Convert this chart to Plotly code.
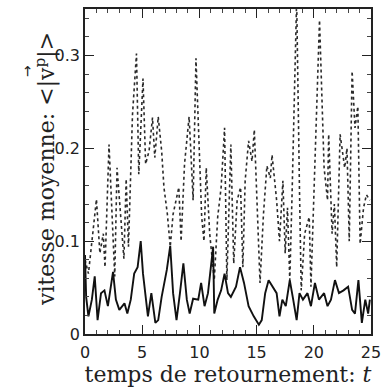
import plotly.graph_objects as go

# upper (dotted) series: mean particle velocity
t_dot = [0.0, 0.3, 1.0, 1.3, 1.6, 1.75, 2.1, 2.6, 2.8, 3.0, 3.4, 3.6, 3.8, 4.15, 4.5, 4.7,
         5.07, 5.3, 5.6, 5.9, 6.1, 6.4, 6.7, 6.9, 7.2, 7.45, 7.7, 8.2, 8.4, 8.7, 9.1, 9.25,
         9.45, 9.7, 10.0, 10.2, 10.4, 10.6, 10.9, 11.2, 11.3, 11.6, 11.9, 12.2, 12.4, 12.75,
         13.0, 13.3, 13.6, 13.8, 14.0, 14.3, 14.6, 14.8, 15.3, 15.6, 15.9, 16.2, 16.35, 16.75,
         17.0, 17.3, 17.5, 17.7, 17.9, 18.1, 18.5, 18.75, 18.9, 19.2, 19.6, 19.75, 20.0, 20.5,
         20.9, 21.2, 21.3, 21.6, 21.8, 22.0, 22.3, 22.7, 22.9, 23.1, 23.35, 23.6, 23.85, 24.05,
         24.35, 24.6, 24.9]
v_dot = [0.080, 0.065, 0.145, 0.087, 0.108, 0.072, 0.204, 0.062, 0.179, 0.144, 0.081, 0.167,
         0.094, 0.236, 0.302, 0.172, 0.275, 0.183, 0.197, 0.233, 0.190, 0.234, 0.197, 0.158,
         0.129, 0.094, 0.129, 0.158, 0.100, 0.183, 0.234, 0.197, 0.144, 0.297, 0.193, 0.126,
         0.100, 0.179, 0.108, 0.072, 0.058, 0.126, 0.158, 0.222, 0.058, 0.204, 0.076, 0.144,
         0.158, 0.072, 0.165, 0.208, 0.186, 0.220, 0.055, 0.129, 0.181, 0.168, 0.193, 0.144,
         0.100, 0.165, 0.087, 0.136, 0.058, 0.150, 0.360, 0.154, 0.047, 0.108, 0.126, 0.051,
         0.144, 0.338, 0.179, 0.144, 0.215, 0.108, 0.140, 0.072, 0.215, 0.179, 0.200, 0.100,
         0.283, 0.222, 0.245, 0.097, 0.136, 0.150, 0.144]

# lower (solid) series: mean fluid velocity
t_sol = [0.0, 0.1, 0.3, 0.6, 0.85, 1.1, 1.4, 1.7, 2.0, 2.45, 2.7, 3.0, 3.45, 3.7, 4.0, 4.3,
         4.6, 4.87, 5.07, 5.3, 5.5, 5.8, 6.15, 6.4, 6.7, 7.15, 7.45, 7.7, 8.0, 8.3, 8.6, 8.9,
         9.15, 9.45, 9.9, 10.15, 10.45, 10.75, 11.2, 11.3, 11.6, 11.9, 12.2, 12.5, 12.75, 13.2,
         13.55, 13.9, 14.3, 14.75, 15.2, 15.45, 15.75, 16.05, 16.4, 16.75, 17.0, 17.25, 17.55,
         17.9, 18.2, 18.5, 18.75, 19.05, 19.45, 19.75, 20.1, 20.45, 20.9, 21.2, 21.5, 21.85,
         22.2, 22.6, 23.0, 23.35, 23.6, 23.9, 24.2, 24.5, 24.75, 24.9]
v_sol = [0.085, 0.040, 0.019, 0.037, 0.062, 0.015, 0.044, 0.047, 0.030, 0.067, 0.037, 0.026,
         0.033, 0.022, 0.037, 0.065, 0.072, 0.100, 0.065, 0.037, 0.019, 0.044, 0.012, 0.015,
         0.040, 0.069, 0.095, 0.044, 0.015, 0.044, 0.076, 0.037, 0.022, 0.038, 0.037, 0.055,
         0.030, 0.044, 0.094, 0.022, 0.037, 0.047, 0.065, 0.044, 0.040, 0.051, 0.072, 0.055,
         0.030, 0.019, 0.010, 0.015, 0.044, 0.058, 0.051, 0.044, 0.019, 0.037, 0.030, 0.058,
         0.037, 0.015, 0.044, 0.037, 0.044, 0.030, 0.055, 0.037, 0.044, 0.030, 0.037, 0.058,
         0.044, 0.047, 0.051, 0.026, 0.022, 0.058, 0.012, 0.037, 0.022, 0.037]

x_tickvals = [0, 5, 10, 15, 20, 25]
y_tickvals = [0, 0.1, 0.2, 0.3]
y_ticktext = ["0", "0.1", "0.2", "0.3"]

fig = go.Figure()
fig.add_trace(go.Scatter(x=t_dot, y=v_dot, mode="lines",
                         line=dict(color="#2a2a2a", width=1.6, dash="dot")))
fig.add_trace(go.Scatter(x=t_sol, y=v_sol, mode="lines",
                         line=dict(color="#111111", width=1.9)))

axis_common = dict(showline=True, linecolor="#222", linewidth=1.5, mirror="allticks",
                   ticks="inside", ticklen=9, tickwidth=1.2, tickcolor="#222",
                   showgrid=False, zeroline=False,
                   tickfont=dict(family="DejaVu Sans", size=16, color="#222"))

title_font = dict(family="DejaVu Serif", size=22, color="#222")

fig.update_xaxes(range=[0, 25], tickvals=x_tickvals, ticklabelstandoff=3,
                 minor=dict(ticks="inside", ticklen=4, dtick=1, tickcolor="#444", showgrid=False),
                 title=dict(text="temps de retournement: <i>t</i>", font=title_font, standoff=0),
                 **axis_common)
fig.update_yaxes(range=[0, 0.35], tickvals=y_tickvals, ticktext=y_ticktext,
                 minor=dict(ticks="inside", ticklen=4, dtick=0.02, tickcolor="#444", showgrid=False),
                 **axis_common)

# y-axis title as rotated annotations (with the vector arrow over v)
fig.add_annotation(xref="paper", yref="paper", x=-0.196, y=0.509, showarrow=False,
                   textangle=-90, font=title_font,
                   text="vitesse moyenne: <|v<sup>p</sup>|>")
fig.add_annotation(xref="paper", yref="paper", x=-0.24, y=0.835, showarrow=False,
                   textangle=-90, font=dict(family="DejaVu Sans", size=14, color="#222"),
                   text="\u2192")

fig.update_layout(width=388, height=390, margin=dict(l=85, r=12, t=7, b=56),
                  plot_bgcolor="white", paper_bgcolor="white", showlegend=False)

fig.write_html("out.html", config={"displayModeBar": False},
               post_script="document.body.style.margin='0';")
